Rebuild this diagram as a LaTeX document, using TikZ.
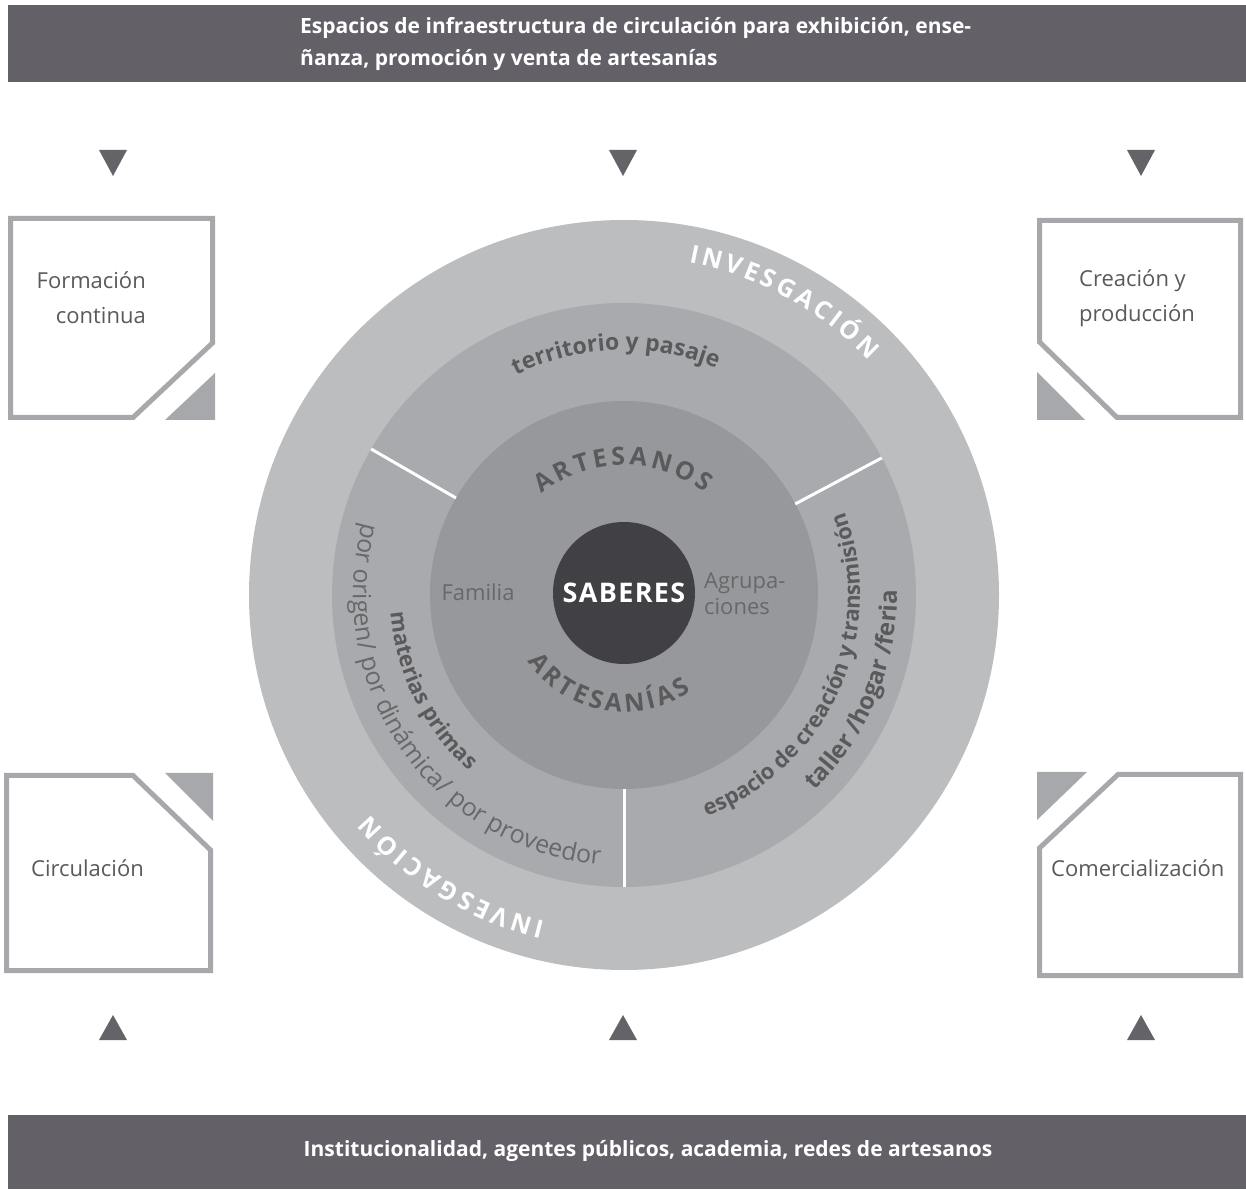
\documentclass[tikz,border=0pt]{standalone}
\usepackage{fontspec}
\setmainfont{Open Sans}
\newfontfamily\tightfamily[WordSpace=0.55]{Open Sans}
\usetikzlibrary{decorations.text}

\definecolor{bandgray}{HTML}{636167}
\definecolor{markgray}{HTML}{646368}
\definecolor{framegray}{HTML}{A7A8AB}
\definecolor{outerring}{HTML}{BCBDBF}
\definecolor{midring}{HTML}{A9AAAD}
\definecolor{innerdisc}{HTML}{97989B}
\definecolor{coredisc}{HTML}{414145}
\definecolor{labeldark}{HTML}{5A5A5D}
\definecolor{labelgray}{HTML}{68686B}

\newcommand\ringfont{\tightfamily\fontsize{25}{25}\selectfont\bfseries\color{white}}
\newcommand\capsfont{\tightfamily\fontsize{25}{25}\selectfont\bfseries\color{labeldark}}
\newcommand\layerfont{\fontsize{22}{22}\selectfont\bfseries\color{labeldark}}
\newcommand\notefont{\fontsize{25}{25}\selectfont\color{labelgray}}

\tikzset{
  band/.style={fill=bandgray},
  bandtext/.style={text=white, font=\bfseries\fontsize{21}{32}\selectfont, align=left, inner sep=0pt},
  marker/.style={fill=markgray},
  frame/.style={draw=framegray, line width=5pt, fill=white, line join=miter},
  tab/.style={fill=framegray},
  stage/.style={text=labeldark, font=\fontsize{22}{35}\selectfont, inner sep=0pt},
  divider/.style={draw=white, line width=3pt},
  curved/.style={decorate, decoration={text along path, text align=center, text={#1}}},
}

\begin{document}
\begin{tikzpicture}[x=1pt, y=1pt]
\useasboundingbox (0,0) rectangle (1246,1189);
\coordinate (C) at (624,594);

%bands
\fill[band] (8,1107) rectangle (1246,1184);
\fill[band] (8,0) rectangle (1246,74);
\node[bandtext, anchor=west] (topband) at (300,1145) {Espacios de infraestructura de circulación para exhibición, ense-\\ñanza, promoción y venta de artesanías};
\node[bandtext] (bottomband) at (648,38) {Institucionalidad, agentes públicos, academia, redes de artesanos};

%markers
\foreach \x in {113,623,1141} {
  \fill[marker] (\x-14,1039) -- (\x+14,1039) -- (\x,1013) -- cycle;
  \fill[marker] (\x-14,149) -- (\x+14,149) -- (\x,174) -- cycle;
}

%corner frames
\draw[frame] (10.5,970.5) -- (212.5,970.5) -- (212.5,846) -- (133,771.5) -- (10.5,771.5) -- cycle;
\fill[tab] (165,769) -- (215,769) -- (215,816) -- cycle;
\draw[frame] (1039.5,968.5) -- (1240.5,968.5) -- (1240.5,771.5) -- (1117,771.5) -- (1039.5,847) -- cycle;
\fill[tab] (1037,769) -- (1085,769) -- (1037,817) -- cycle;
\draw[frame] (6.5,413.5) -- (133,413.5) -- (210.5,339) -- (210.5,218.5) -- (6.5,218.5) -- cycle;
\fill[tab] (165,416) -- (213,416) -- (213,368) -- cycle;
\draw[frame] (1039.5,341) -- (1118,414.5) -- (1240.5,414.5) -- (1240.5,213.5) -- (1039.5,213.5) -- cycle;
\fill[tab] (1037,417) -- (1087,417) -- (1037,369) -- cycle;

\node[stage, anchor=east, align=right] (formacion) at (146,891) {Formación\\continua};
\node[stage, anchor=west, align=left] (creacion) at (1079,891) {Creación y\\producción};
\node[stage, anchor=west] (circulacion) at (31,321) {Circulación};
\node[stage, anchor=west] (comercial) at (1051,321) {Comercialización};

%rings
\fill[outerring] (C) circle[radius=375pt];
\fill[midring] (C) circle[radius=292pt];
\fill[innerdisc] (C) circle[radius=194pt];
\foreach \a in {28,150,270}
  \draw[divider] (C) ++(\a:194pt) -- ++(\a:98pt);
\node[circle, fill=coredisc, minimum size=142pt, inner sep=0pt, text=white, font=\fontsize{27}{27}\selectfont\bfseries\addfontfeature{LetterSpace=5}] (saberes) at (624,596) {SABERES};
\node[text=labelgray, font=\fontsize{22}{22}\selectfont, inner sep=0pt] (familia) at (478,597) {Familia};
\node[text=labelgray, font=\fontsize{22}{26}\selectfont, align=left, anchor=west, inner sep=0pt] (agrupa) at (704,595) {Agrupa-\\ciones};

%curved labels
\path[curved={|\ringfont|I N V E S G A C I Ó N}] (C) ++(95:339pt) arc[start angle=95, end angle=27.8, radius=339pt];
\path[curved={|\ringfont|I N V E S G A C I Ó N}] (C) ++(271:336pt) arc[start angle=271, end angle=206.3, radius=336pt];
\path[curved={|\capsfont|A R T E S A N O S}] (C) ++(150.4:130pt) arc[start angle=150.4, end angle=30.4, radius=130pt];
\path[curved={|\capsfont|A R T E S A N Í A S}] (C) ++(189.6:117pt) arc[start angle=189.6, end angle=329.6, radius=117pt];
\path[curved={|\layerfont\fontsize{23}{23}\selectfont|territorio y pasaje}] (C) ++(140:245pt) arc[start angle=140, end angle=44, radius=245pt];
\path[curved={|\notefont|por origen/ por dinámica/ por proveedor}] (C) ++(150:271pt) arc[start angle=150, end angle=279.4, radius=271pt];
\path[curved={|\layerfont|materias primas}] (C) ++(170:234pt) arc[start angle=170, end angle=243, radius=234pt];
\path[curved={|\layerfont|espacio de creación y transmisión}] (C) ++(275:236pt) arc[start angle=275, end angle=396, radius=236pt];
\path[curved={|\layerfont\fontsize{24}{24}\selectfont|taller /hogar /feria}] (C) ++(300:273pt) arc[start angle=300, end angle=375.2, radius=273pt];
\end{tikzpicture}
\end{document}
